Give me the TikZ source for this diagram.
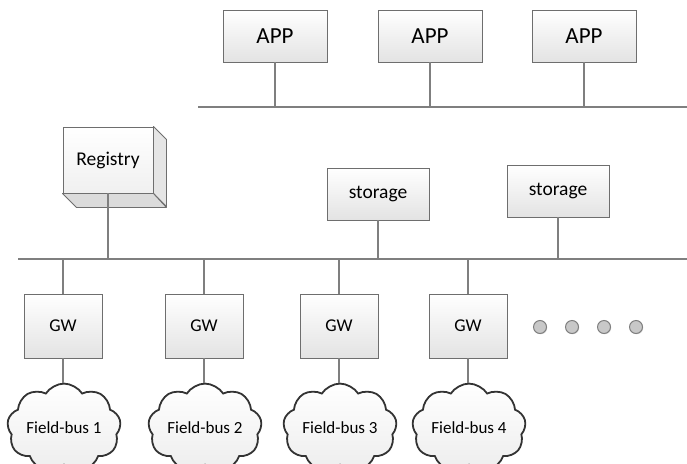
\documentclass[tikz,border=0pt]{standalone}
\usepackage{fontspec}
\setmainfont{Carlito}
\usetikzlibrary{shapes.symbols,shadows}
\definecolor{wire}{HTML}{7F7F7F}
\definecolor{edge}{HTML}{6E6E6E}
\definecolor{dotfill}{HTML}{C8C8C8}
\definecolor{cloudedge}{HTML}{333333}
\tikzset{
  box/.style={draw=edge, line width=0.9pt, top color=white, bottom color=black!11,
    drop shadow={shadow xshift=1.2pt, shadow yshift=-1.2pt, fill=black!35, opacity=0.45},
    minimum width=#1, inner sep=0pt},
  wireline/.style={draw=wire, line width=1.2pt},
  dotnode/.style={circle, draw=wire, line width=1pt, fill=dotfill, minimum size=13pt, inner sep=0pt,
    drop shadow={shadow xshift=0.8pt, shadow yshift=-0.8pt, fill=black!30, opacity=0.4}},
  fbus/.style={cloud, cloud puffs=9, cloud puff arc=115, aspect=1.45, draw=cloudedge, line width=1.8pt,
    top color=white, bottom color=black!7, minimum width=104pt, minimum height=78pt, inner sep=0pt,
    font=\fontsize{17}{20}\selectfont},
}
\begin{document}
\begin{tikzpicture}[x=1pt, y=-1pt]
\useasboundingbox (0,0) rectangle (687,463);

% application layer
\node[box=104pt, minimum height=52pt, font=\fontsize{23}{26}\selectfont] (app1) at (275,36) {APP};
\node[box=104pt, minimum height=52pt, font=\fontsize{23}{26}\selectfont] (app2) at (430,36) {APP};
\node[box=104pt, minimum height=52pt, font=\fontsize{23}{26}\selectfont] (app3) at (584,36) {APP};
\coordinate (tbL) at (198,107);
\coordinate (tbR) at (687,107);
\draw[wireline] (tbL) -- (tbR);
\foreach \a in {app1,app2,app3}
  \draw[wireline] (\a.south) -- (\a.south |- tbL);

% middle bus
\coordinate (mbL) at (18,259);
\coordinate (mbR) at (687,259);
\draw[wireline] (mbL) -- (mbR);

% registry (3D box)
\node[draw=edge, line width=0.9pt, top color=white, bottom color=black!6, minimum width=90pt,
  minimum height=66pt, inner sep=0pt, font=\fontsize{19.5}{22}\selectfont] (reg) at (108,160) {Registry};
\filldraw[draw=edge, line width=0.9pt, fill=black!10, line join=round]
  (reg.north east) -- ++(13,13) -- ++(0,67) -- (reg.south east) -- cycle;
\filldraw[draw=edge, line width=0.9pt, fill=black!14, line join=round]
  (reg.south west) -- (reg.south east) -- ++(13,14) -- ++(-90,0) -- cycle;
\draw[wireline] (reg.south) -- (reg.south |- mbL);

% storage
\node[box=102pt, minimum height=52pt, font=\fontsize{19.5}{22}\selectfont] (st1) at (378,194) {storage};
\node[box=102pt, minimum height=52pt, font=\fontsize{19.5}{22}\selectfont] (st2) at (558,191) {storage};
\foreach \s in {st1,st2}
  \draw[wireline] (\s.south) -- (\s.south |- mbL);

% gateways and field buses
\foreach \i/\x in {1/63,2/204,3/339,4/468}{
  \node[box=78pt, minimum height=64pt, font=\fontsize{18}{21}\selectfont] (gw\i) at (\x,326) {GW};
  \draw[wireline] (gw\i.north) -- (gw\i.north |- mbL);
  \node[fbus] (fb\i) at (\x+1,428) {Field-bus \i};
  \draw[wireline] (gw\i.south) -- (gw\i.south |- fb\i.north);
}

% more gateways
\node[dotnode] (d1) at (540,327) {};
\node[dotnode] (d2) at (572,327) {};
\node[dotnode] (d3) at (604,327) {};
\node[dotnode] (d4) at (636,327) {};
\end{tikzpicture}
\end{document}
